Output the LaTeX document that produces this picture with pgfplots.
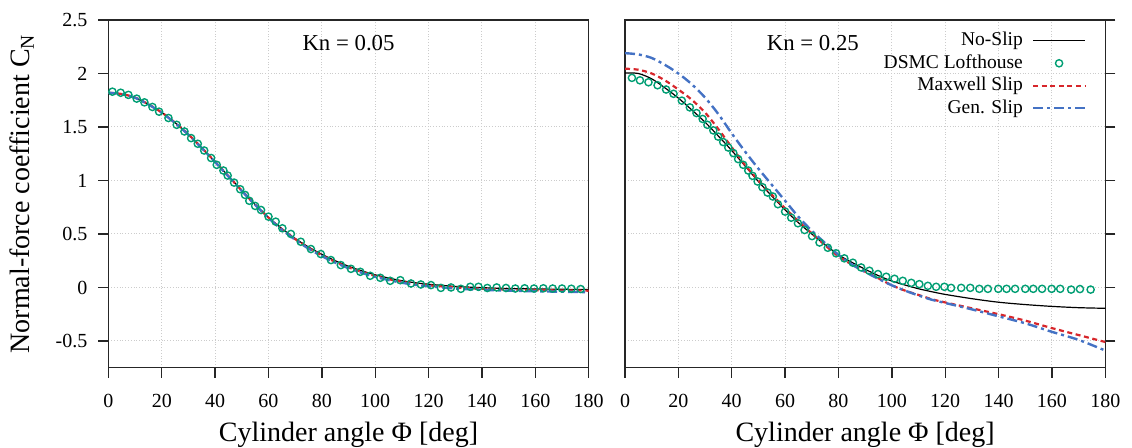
\documentclass[border=0pt]{standalone}
\usepackage{fontspec}
\setmainfont{Liberation Serif}
\usepackage{pgfplots}
\pgfplotsset{compat=1.18}
\definecolor{cgreen}{HTML}{009E73}
\definecolor{cred}{HTML}{D7262B}
\definecolor{cblue}{HTML}{4472C4}
\pgfplotsset{
  panel/.style={
    scale only axis, width=240.15pt, height=173.85pt,
    xmin=0, xmax=180, ymin=-0.75, ymax=2.5,
    xtick={0,20,40,60,80,100,120,140,160,180},
    ytick={-0.5,0,0.5,1,1.5,2,2.5},
    grid=major, grid style={black!20, densely dotted, line width=0.5pt},
    tick align=outside, major tick length=5pt,
    xtick pos=bottom,
    axis line style={black!85, line width=0.7pt},
    tick style={black!85, line width=0.7pt},
    /pgf/number format/assume math mode=true,
    tick label style={font=\fontsize{10}{12}\selectfont},
    xticklabel style={yshift=-4.5pt},
    yticklabel style={xshift=-2pt},
    label style={font=\fontsize{14}{16}\selectfont},
    xlabel={Cylinder angle Φ [deg]},
    xlabel style={at={(axis description cs:0.5,0)}, anchor=base, yshift=-36.7pt},
    legend image code/.code={\draw[mark repeat=2,mark phase=2,#1] plot coordinates {(0pt,0pt) (13pt,0pt) (26pt,0pt)};},
  },
  noslip/.style={black, line width=0.6pt, no markers, smooth},
  dsmc/.style={cgreen, only marks, mark=o, mark size=1.8pt, mark options={line width=0.7pt}},
  maxw/.style={cred, line width=1.1pt, dash pattern=on 2.5pt off 1.8pt, no markers, smooth},
  gens/.style={cblue, line width=1.2pt, dash pattern=on 5pt off 2pt on 1.5pt off 2pt, no markers, smooth},
}
\begin{document}
\begin{tikzpicture}
\path[use as bounding box] (-54.2pt,-40.15pt) rectangle (511.8pt,183.85pt);
% ---------------- left: Kn = 0.05
\begin{axis}[panel, at={(0pt,0pt)}, anchor=south west,
  ytick pos=left,
  ylabel={Normal-force coefficient C\textsubscript{N}},
  ylabel style={at={(axis description cs:-0.18,0.5)}, anchor=center},
]
\addplot[noslip] coordinates {(0,1.82)(5,1.808)(10,1.775)(15,1.712)(20,1.635)(25,1.54)(30,1.43)(35,1.305)(40,1.175)(45,1.04)(50,0.905)(55,0.775)(60,0.655)(65,0.55)(70,0.458)(75,0.378)(80,0.31)(85,0.25)(90,0.198)(95,0.155)(100,0.118)(105,0.088)(110,0.063)(115,0.044)(120,0.03)(130,0.01)(140,-0.002)(150,-0.01)(160,-0.014)(170,-0.017)(180,-0.02)};
\addplot[dsmc] coordinates {(1.5,1.83)(4.6,1.82)(7.5,1.80)(10.6,1.765)(13.5,1.73)(16.5,1.687)(19,1.643)(22.5,1.584)(25.6,1.52)(28.5,1.458)(31,1.396)(33.5,1.343)(35.9,1.28)(38.5,1.21)(40.6,1.146)(43.1,1.093)(44.7,1.046)(47.1,0.98)(49.4,0.918)(51.2,0.865)(52.8,0.81)(55,0.762)(57.2,0.724)(60,0.662)(62.7,0.615)(65.2,0.553)(68.4,0.50)(72.1,0.427)(75.9,0.359)(79.6,0.312)(83.4,0.256)(87.1,0.209)(90.9,0.174)(94.4,0.146)(98.1,0.109)(101.9,0.09)(105.6,0.062)(109.4,0.068)(113.4,0.037)(117.1,0.028)(120.9,0.022)(124.6,-0.004)(128.4,0)(132.1,-0.013)(135.6,0.006)(138.7,0.006)(142,-0.005)(145.5,0)(149,-0.005)(152.5,-0.01)(156,-0.008)(159.5,-0.01)(163,-0.008)(166.5,-0.01)(170,-0.01)(173.5,-0.012)(177,-0.015)};
\addplot[maxw] coordinates {(0,1.82)(5,1.808)(10,1.775)(15,1.712)(20,1.635)(25,1.54)(30,1.43)(35,1.305)(40,1.175)(45,1.04)(50,0.905)(55,0.775)(60,0.653)(65,0.545)(70,0.452)(75,0.37)(80,0.30)(85,0.24)(90,0.188)(95,0.145)(100,0.108)(105,0.078)(110,0.053)(115,0.034)(120,0.02)(130,0)(140,-0.012)(150,-0.02)(160,-0.025)(170,-0.028)(180,-0.03)};
\addplot[gens] coordinates {(0,1.82)(5,1.808)(10,1.773)(15,1.71)(20,1.632)(25,1.537)(30,1.427)(35,1.302)(40,1.172)(45,1.037)(50,0.902)(55,0.772)(60,0.65)(65,0.54)(70,0.447)(75,0.363)(80,0.293)(85,0.232)(90,0.18)(95,0.136)(100,0.099)(105,0.069)(110,0.044)(115,0.025)(120,0.011)(130,-0.01)(140,-0.022)(150,-0.03)(160,-0.036)(170,-0.04)(180,-0.045)};
\node[font=\fontsize{11.4}{13}\selectfont] at (axis cs:90,2.28) {Kn = 0.05};
\end{axis}
% ---------------- right: Kn = 0.25
\begin{axis}[panel, at={(258.3pt,0pt)}, anchor=south west,
  ytick pos=right, yticklabels={},
  legend cell align=right, legend plot pos=right,
  legend style={at={(rel axis cs:1,1)}, anchor=north east, xshift=-9.5pt, yshift=-5.9pt,
    draw=none, fill=none, inner sep=0pt, outer sep=0pt, row sep=2.25pt, column sep=4.5pt,
    font=\fontsize{9.75}{11}\selectfont,
    nodes={inner sep=0pt, text height=7pt, text depth=2pt}},
]
\addplot[noslip] coordinates {(0,2.005)(5,2.0)(10,1.95)(15,1.865)(20,1.77)(25,1.66)(30,1.545)(35,1.415)(40,1.28)(45,1.135)(50,0.99)(55,0.855)(60,0.725)(65,0.605)(70,0.50)(75,0.40)(80,0.305)(85,0.235)(90,0.17)(95,0.11)(100,0.06)(105,0.022)(110,-0.012)(115,-0.04)(120,-0.065)(130,-0.105)(140,-0.138)(150,-0.16)(160,-0.177)(170,-0.189)(180,-0.195)};
\addlegendentry{No-Slip}
\addplot[dsmc] coordinates {(2.6,1.959)(5.6,1.936)(8.8,1.918)(12.2,1.89)(15.4,1.85)(18.2,1.81)(21.3,1.746)(24.3,1.683)(26.8,1.63)(29.1,1.575)(30.9,1.52)(33.1,1.468)(34.9,1.41)(36.8,1.359)(38.7,1.308)(40.6,1.256)(42.4,1.2)(44.3,1.146)(46.2,1.093)(47.8,1.043)(49.7,0.99)(51.5,0.937)(53.4,0.887)(55.4,0.85)(57.3,0.778)(60,0.709)(62.3,0.652)(64.8,0.6)(67.3,0.537)(70.1,0.48)(72.9,0.42)(76,0.371)(79.1,0.319)(82.2,0.272)(85.4,0.231)(88.5,0.187)(91.6,0.156)(94.8,0.125)(97.9,0.1)(101,0.081)(104.1,0.062)(107.3,0.043)(110.3,0.031)(113.5,0.015)(116.6,0.006)(119.7,0.006)(122.2,-0.004)(126,-0.004)(129.4,-0.004)(132.8,-0.013)(136,-0.013)(139.9,-0.013)(143,-0.013)(146.2,-0.013)(150,-0.013)(153,-0.013)(156.3,-0.013)(159.9,-0.013)(163.1,-0.013)(167.2,-0.02)(170.5,-0.015)(174.5,-0.02)};
\addlegendentry{DSMC Lofthouse}
\addplot[maxw] coordinates {(0,2.045)(5,2.035)(10,2.0)(15,1.935)(20,1.85)(25,1.755)(30,1.635)(35,1.48)(40,1.31)(45,1.145)(50,1.0)(55,0.868)(60,0.74)(65,0.62)(70,0.505)(75,0.395)(80,0.29)(85,0.215)(90,0.148)(95,0.085)(100,0.02)(105,-0.03)(110,-0.07)(115,-0.11)(120,-0.14)(130,-0.195)(140,-0.25)(150,-0.31)(160,-0.38)(170,-0.445)(180,-0.51)};
\addlegendentry{Maxwell Slip}
\addplot[gens] coordinates {(0,2.19)(5,2.178)(10,2.145)(15,2.08)(20,2.0)(25,1.9)(30,1.775)(35,1.62)(40,1.44)(45,1.27)(50,1.11)(55,0.96)(60,0.81)(65,0.66)(70,0.53)(75,0.415)(80,0.305)(85,0.215)(90,0.145)(95,0.08)(100,0.02)(105,-0.03)(110,-0.075)(115,-0.115)(120,-0.145)(130,-0.205)(140,-0.27)(150,-0.335)(160,-0.415)(170,-0.49)(180,-0.59)};
\addlegendentry{Gen. Slip}
\node[font=\fontsize{11.4}{13}\selectfont] at (axis cs:70.4,2.28) {Kn = 0.25};
\end{axis}
\end{tikzpicture}
\end{document}
